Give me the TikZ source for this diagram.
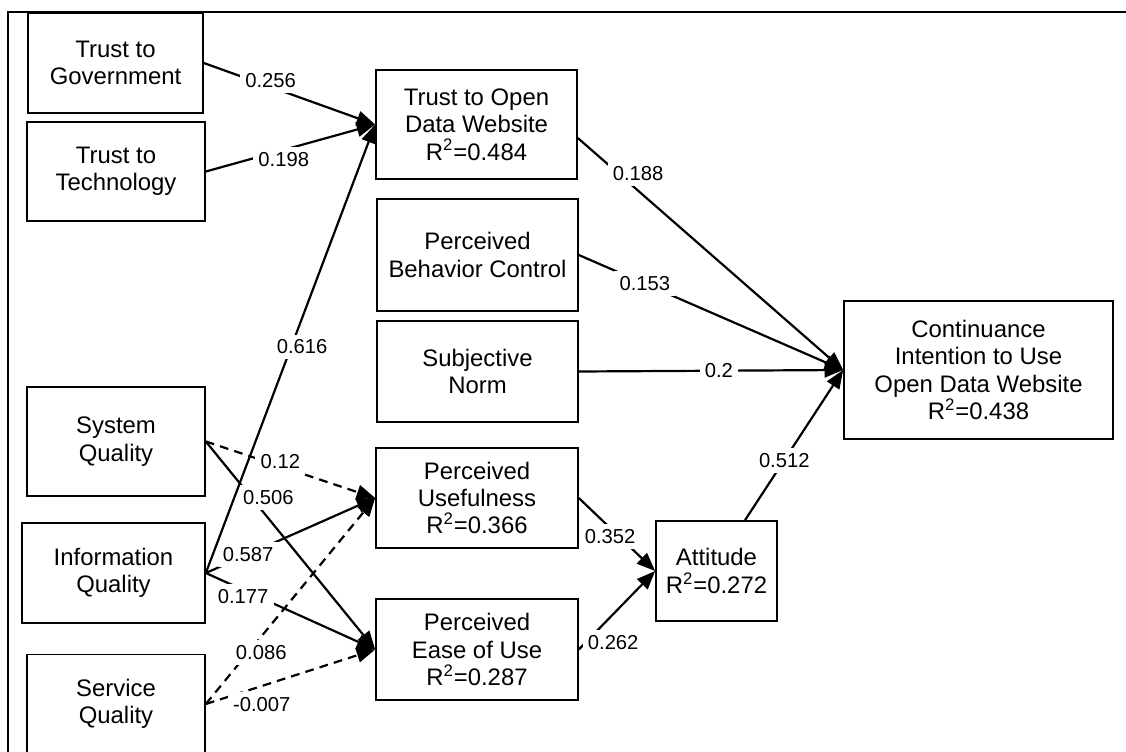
\documentclass[tikz,border=0pt]{standalone}
\usepackage{fontspec}
\setmainfont{Liberation Sans}
\usetikzlibrary{arrows.meta,positioning,calc}

\begin{document}
\begin{tikzpicture}[x=0.02cm, y=-0.02cm,
    construct/.style={draw, line width=0.95pt, align=center, inner sep=2pt,
        font=\fontsize{13.6}{15.6}\selectfont},
    coef/.style={fill=white, inner sep=3pt, font=\fontsize{11.5}{13}\selectfont},
    effect/.style={line width=1.25pt, -{Triangle[length=0.37cm,width=0.29cm]}},
    weak/.style={effect, dash pattern=on 5pt off 3.5pt}]
    \clip (0,0) rectangle (1126,751);
    \fill[white] (0,0) rectangle (1126,751);
    \draw[line width=1.3pt] (8,760) -- (8,12) -- (1130,12);

    % constructs
    \node[construct, minimum width=3.5cm, minimum height=2cm] (gov) at (115.5,63) {Trust to\\Government};
    \node[construct, minimum width=3.56cm, minimum height=1.98cm] (tech) at (116,171.5) {Trust to\\Technology};
    \node[construct, minimum width=3.56cm, minimum height=2.18cm] (sys) at (116,441.5) {System\\Quality};
    \node[construct, minimum width=3.66cm, minimum height=2cm] (info) at (113.5,573) {Information\\Quality};
    \node[construct, minimum width=3.56cm, minimum height=1.98cm] (serv) at (116,704) {Service\\Quality};

    \node[construct, minimum width=4.02cm, minimum height=2.18cm] (tod) at (476.5,124.5) {Trust to Open\\Data Website\\R\textsuperscript{2}=0.484};
    \node[construct, minimum width=4.02cm, minimum height=2.24cm] (pbc) at (477.5,255) {Perceived\\Behavior Control};
    \node[construct, minimum width=4.02cm, minimum height=2.02cm] (sn) at (477.5,371.5) {Subjective\\Norm};
    \node[construct, minimum width=4.04cm, minimum height=2cm] (pu) at (477,498) {Perceived\\Usefulness\\R\textsuperscript{2}=0.366};
    \node[construct, minimum width=4.04cm, minimum height=2.02cm] (peu) at (477,649.5) {Perceived\\Ease of Use\\R\textsuperscript{2}=0.287};

    \node[construct, minimum width=2.42cm, minimum height=2cm] (att) at (716.5,571) {Attitude\\R\textsuperscript{2}=0.272};
    \node[construct, minimum width=5.38cm, minimum height=2.76cm] (ci) at (978.5,370) {Continuance\\Intention to Use\\Open Data Website\\R\textsuperscript{2}=0.438};

    % paths into trust to open data website
    \draw[effect] (gov.east) -- node[coef, pos=0.39, yshift=3.9pt] (gov-tod) {0.256} (tod.west);
    \draw[effect] (tech.east) -- node[coef, pos=0.46, yshift=-5.7pt] (tech-tod) {0.198} (tod.west);

    % paths into usefulness and ease of use
    \draw[weak] (sys.east) -- node[coef, pos=0.44, yshift=3pt] (sys-pu) {0.12} (pu.west);
    \draw[effect] (sys.east) -- node[coef, pos=0.27, xshift=9.6pt] (sys-peu) {0.506} (peu.west);
    \draw[effect] (info.east) -- node[coef, pos=0.25] (info-pu) {0.587} (pu.west);
    \draw[effect] (info.east) -- node[coef, pos=0.22, yshift=-4pt] (info-peu) {0.177} (peu.west);
    \draw[weak] (serv.east) -- node[coef, pos=0.29, xshift=3.6pt, yshift=-4.6pt] (serv-pu) {0.086} (pu.west);
    \draw[weak] (serv.east) -- node[coef, pos=0.33, yshift=-10.5pt] (serv-peu) {-0.007} (peu.west);
    \draw[effect] (info.east) -- node[coef, pos=0.504, xshift=6.2pt] (info-tod) {0.616} (tod.west);

    % paths into attitude
    \draw[effect] (pu.east) -- node[coef, pos=0.41, yshift=-5pt] (pu-att) {0.352} (att.west);
    \draw[effect] (peu.east) -- node[coef, pos=0.45, yshift=-16pt] (peu-att) {0.262} (att.west);

    % paths into continuance intention
    \draw[effect] ([yshift=-0.27cm]tod.east) -- node[coef, pos=0.227, yshift=9.6pt] (tod-ci) {0.188} (ci.west);
    \draw[effect] (pbc.east) -- node[coef, pos=0.25] (pbc-ci) {0.153} (ci.west);
    \draw[effect] (sn.east) -- node[coef, pos=0.53] (sn-ci) {0.2} (ci.west);
    \draw[effect] ([xshift=0.57cm]att.north) -- node[coef, pos=0.4] (att-ci) {0.512} (ci.west);
\end{tikzpicture}
\end{document}
